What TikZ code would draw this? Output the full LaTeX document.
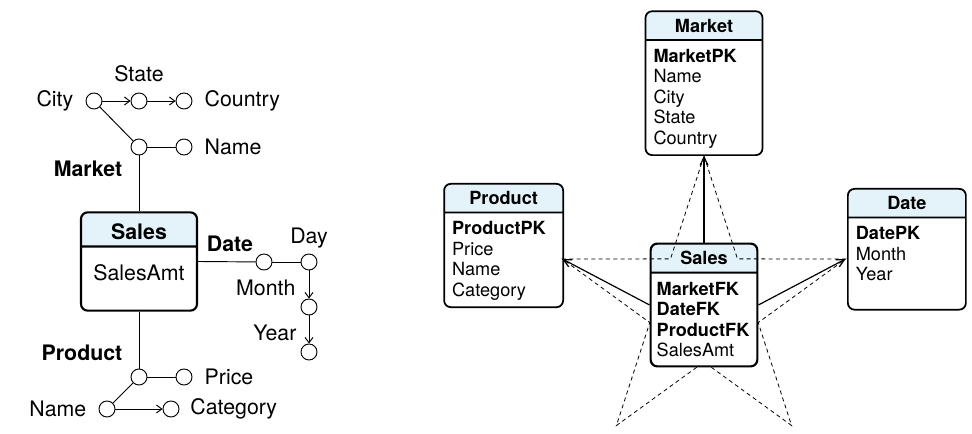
\documentclass[tikz,border=0pt]{standalone}
\usepackage{fontspec}
\setmainfont{TeX Gyre Heros}
\usetikzlibrary{positioning,calc,arrows.meta,shapes.multipart,backgrounds}
\definecolor{hdrblue}{HTML}{E4F2F9}
\newcommand{\hdrfill}[1]{%
  \begin{scope}
    \clip[rounded corners=5pt] (#1.north west) rectangle (#1.south east);
    \fill[hdrblue] (#1.north west) rectangle (#1.one split east);
  \end{scope}}
\newcommand{\etitle}[1]{{\centering\rule{0pt}{20.2pt}\raisebox{5.2pt}{\textbf{#1}}\par}}
\newcommand{\tstrut}{\rule{0pt}{16pt}}
\begin{document}
\begin{tikzpicture}[x=0.75pt, y=-0.75pt, line join=round, >={Straight Barb[length=4pt,width=6pt]},
  attr/.style={circle, draw, line width=0.7pt, minimum size=12pt, inner sep=0pt},
  lbl/.style={inner sep=1pt, font=\fontsize{16}{19}\selectfont},
  role/.style={inner sep=1pt, font=\fontsize{16}{19}\selectfont\bfseries},
  link/.style={line width=0.7pt},
  entity/.style={rectangle split, rectangle split parts=2, draw, line width=1.3pt,
    rounded corners=5pt, inner xsep=6pt, inner ysep=0pt, align=left,
    font=\fontsize{13.6}{15.4}\selectfont},
  fact/.style={entity, line width=1.6pt, inner xsep=4.5pt, text width=71pt},
  factl/.style={entity, line width=1.6pt, inner xsep=0pt, text width=87pt, align=center,
    font=\fontsize{16}{19}\selectfont},
  fk/.style={line width=0.9pt, -{Straight Barb[length=6pt,width=6pt]}},
  starline/.style={line width=0.6pt, dash pattern=on 3pt off 2.5pt}]
\useasboundingbox (0,0) rectangle (972,434);

% attribute graph
\node[attr] (city) at (94,101) {};
\node[attr] (state) at (139,101) {};
\node[attr] (country) at (184,101) {};
\node[attr] (mkt) at (139,147) {};
\node[attr] (mname) at (184,147) {};
\node[factl] (sales1) at (139,261.5) {\textbf{Sales}\rule[-4.7pt]{0pt}{24pt}
  \nodepart{two}SalesAmt\rule[-22pt]{0pt}{46.5pt}};
\node[attr] (dt) at (264,262) {};
\node[attr] (day) at (309,262) {};
\node[attr] (month) at (309,307) {};
\node[attr] (year) at (309,352) {};
\node[attr] (prod) at (139,377) {};
\node[attr] (price) at (184,377) {};
\node[attr] (pname) at (107,409) {};
\node[attr] (cat) at (171,409) {};

\node[lbl, left=8pt of city] (cityl) {City};
\node[lbl, above=7pt of state] (statel) {State};
\node[lbl, right=8pt of country] (countryl) {Country};
\node[lbl, right=8pt of mname] (mnamel) {Name};
\node[role] (mktl) at (88,169) {Market};
\node[role] (dtl) at (230,244) {Date};
\node[lbl, above=3pt of day] (dayl) {Day};
\node[lbl, anchor=east] (monthl) at (297,288) {Month};
\node[lbl, anchor=east] (yearl) at (298,333) {Year};
\node[role] (prodl) at (82,353) {Product};
\node[lbl, right=8pt of price] (pricel) {Price};
\node[lbl, left=8pt of pname] (pnamel) {Name};
\node[lbl, right=7pt of cat] (catl) {Category};

\draw[link,->] (city) -- (state);
\draw[link,->] (state) -- (country);
\draw[link] (city) -- (mkt);
\draw[link] (mkt) -- (mname);
\draw[link] (mkt) -- (sales1);
\draw[link] (sales1.east) -- (dt);
\draw[link] (dt) -- (day);
\draw[link,->] (day) -- (month);
\draw[link,->] (month) -- (year);
\draw[link] (sales1) -- (prod);
\draw[link] (prod) -- (price);
\draw[link] (prod) -- (pname);
\draw[link,->] (pname) -- (cat);

% star schema
\node[fact] (sales) at (704,305) {\etitle{Sales}
  \nodepart{two}\tstrut\textbf{MarketFK}\\\textbf{DateFK}\\\textbf{ProductFK}\\SalesAmt\rule[-6.5pt]{0pt}{0pt}};
\foreach \k in {0,...,4} {
  \coordinate (o\k) at ($(sales.center)+(-90+72*\k:149)$);
  \coordinate (i\k) at ($(sales.center)+(-54+72*\k:57)$);
}
\node[entity, text width=75.75pt, anchor=south] (market) at (o0) {\etitle{Market}
  \nodepart{two}\tstrut\textbf{MarketPK}\\Name\\City\\State\\Country\rule[-7.5pt]{0pt}{0pt}};
\node[entity, text width=77.25pt, anchor=north east] (product) at (564,183) {\etitle{Product}
  \nodepart{two}\tstrut\textbf{ProductPK}\\Price\\Name\\Category\rule[-7.5pt]{0pt}{0pt}};
\node[entity, text width=76.5pt, anchor=north west] (date) at (847,188) {\etitle{Date}
  \nodepart{two}\tstrut\textbf{DatePK}\\Month\\Year\rule[-21pt]{0pt}{0pt}};

\draw[fk] (sales.north) -- (market.south);
\draw[fk] (sales.west) -- (o4);
\draw[fk] (sales.east) -- (o1);

\begin{pgfonlayer}{background}
  \foreach \n in {sales1,market,product,date,sales} {\hdrfill{\n}}
  \draw[starline] (o0) -- (i0) -- (o1) -- (i1) -- (o2) -- (i2) -- (o3) -- (i3) -- (o4) -- (i4) -- cycle;
  \begin{scope}
    \clip[rounded corners=5pt] (sales.north west) rectangle (sales.south east);
    \fill[white] (sales.one split west) rectangle (sales.south east);
  \end{scope}
\end{pgfonlayer}
\end{tikzpicture}
\end{document}
